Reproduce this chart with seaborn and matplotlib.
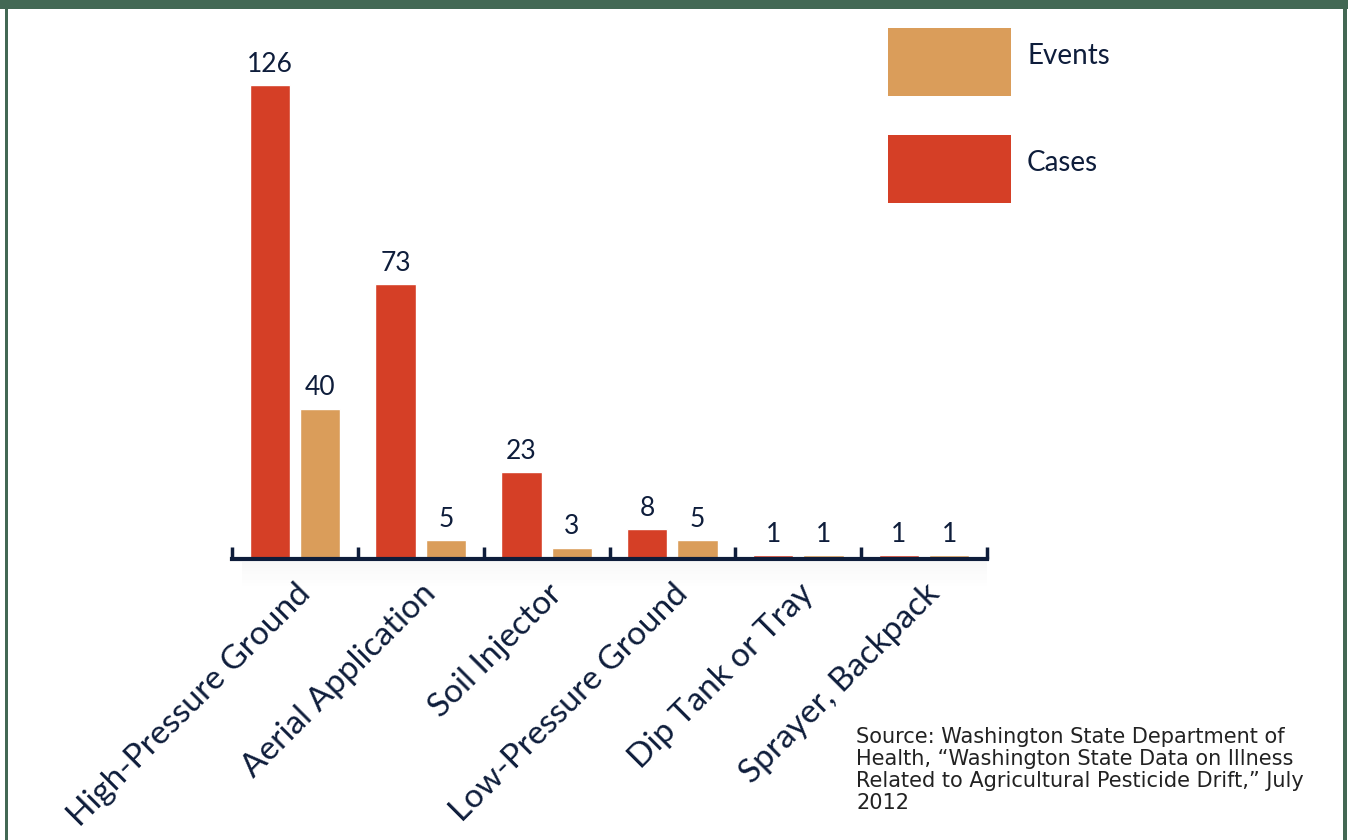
import matplotlib
matplotlib.use("Agg")
import matplotlib.pyplot as plt
from matplotlib.patches import Rectangle
import seaborn as sns
import pandas as pd

categories = ["High-Pressure Ground", "Aerial Application", "Soil Injector",
              "Low-Pressure Ground", "Dip Tank or Tray", "Sprayer, Backpack"]
cases = [126, 73, 23, 8, 1, 1]
events = [40, 5, 3, 5, 1, 1]
series_names = ["Cases", "Events"]
legend_order = ["Events", "Cases"]
source_text = ("Source: Washington State Department of\n"
               "Health, \u201cWashington State Data on Illness\n"
               "Related to Agricultural Pesticide Drift,\u201d July\n"
               "2012")

CASES_COLOR = "#D53F26"
EVENTS_COLOR = "#DA9D5A"
NAVY = "#0E1D3B"
GREEN = "#436854"
palette = {"Cases": CASES_COLOR, "Events": EVENTS_COLOR}

df = pd.DataFrame({
    "category": categories * 2,
    "value": cases + events,
    "series": [series_names[0]] * len(categories) + [series_names[1]] * len(categories),
})

sns.set_style("white")
plt.rcParams["font.family"] = ["Lato", "DejaVu Sans"]

W, H = 1348, 840
fig = plt.figure(figsize=(W / 100, H / 100), dpi=100)
fig.patch.set_facecolor("white")

ax_left, ax_right = 232, 987
ax_bottom_px, ax_top_px = 559, 40
ax = fig.add_axes([ax_left / W, 1 - ax_bottom_px / H,
                   (ax_right - ax_left) / W, (ax_bottom_px - ax_top_px) / H])

sns.barplot(data=df, x="category", y="value", hue="series", palette=palette,
            width=0.8, gap=0.2, saturation=1, ax=ax, legend=False)

px_per_unit = 474 / 126
ax.set_ylim(0, (ax_bottom_px - ax_top_px) / px_per_unit)
ax.set_xlim(-0.5, len(categories) - 0.5)

for cont in ax.containers:
    ax.bar_label(cont, padding=6, fontsize=19, color=NAVY)

for s in ["top", "right", "left"]:
    ax.spines[s].set_visible(False)
ax.spines["bottom"].set_color(NAVY)
ax.spines["bottom"].set_linewidth(3)
ax.set_yticks([])
ax.set_xlabel("")
ax.set_ylabel("")

ax.set_xticks(range(len(categories)))
ax.set_xticklabels(categories, rotation=45, ha="right", rotation_mode="anchor",
                   fontsize=24, color=NAVY)
ax.tick_params(axis="x", length=0, pad=14)
for xb in [i - 0.5 for i in range(len(categories) + 1)]:
    ax.plot([xb, xb], [0, 12 / px_per_unit], color=NAVY, lw=2.5,
            solid_capstyle="butt", clip_on=False)

# subtle shadow under axis
for k in range(8):
    fig.patches.append(Rectangle(((ax_left + 10) / W, 1 - (ax_bottom_px + 6 + 3 * k) / H),
                                 (ax_right - ax_left - 10) / W, 3 / H,
                                 transform=fig.transFigure, facecolor="#888888",
                                 alpha=0.05 * (1 - k / 8), edgecolor="none", zorder=0))

# legend (drawn as swatches with labels)
for i, name in enumerate(legend_order):
    top = 28 + i * 107
    fig.patches.append(Rectangle((888 / W, 1 - (top + 68) / H), 123 / W, 68 / H,
                                 transform=fig.transFigure, facecolor=palette[name],
                                 edgecolor="none"))
    fig.text(1027 / W, 1 - (top + 28) / H, name, fontsize=20, color=NAVY,
             va="center", ha="left")

fig.text(856 / W, 1 - 727 / H, source_text, fontsize=15, color="#222222",
         va="top", ha="left", linespacing=1.13, family="DejaVu Sans")

# frame border
fig.patches.append(Rectangle((0, 1 - 9 / H), 1, 9 / H, transform=fig.transFigure,
                             facecolor=GREEN, edgecolor="none", zorder=10))
fig.patches.append(Rectangle((5 / W, 0), 3 / W, 1, transform=fig.transFigure,
                             facecolor=GREEN, edgecolor="none", zorder=10))
fig.patches.append(Rectangle((1343 / W, 0), 4 / W, 1, transform=fig.transFigure,
                             facecolor=GREEN, edgecolor="none", zorder=10))

fig.savefig("out.png", dpi=100)
